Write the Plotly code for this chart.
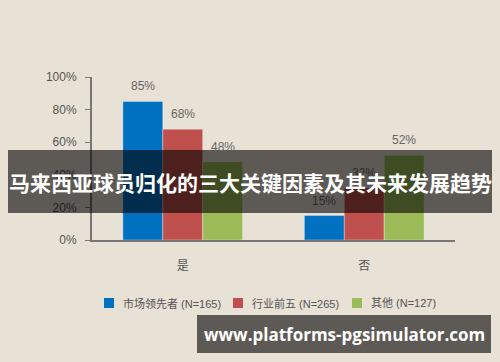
import plotly.graph_objects as go

categories = ["是", "否"]
series_names = ["市场领先者 (N=165)", "行业前五 (N=265)", "其他 (N=127)"]
series_values = [[85, 15], [68, 32], [48, 52]]
series_colors = ["#0070c0", "#c0504d", "#9bbb59"]
y_ticks = [0, 20, 40, 60, 80, 100]
y_tick_labels = ["0%", "20%", "40%", "60%", "80%", "100%"]
title_text = "马来西亚球员归化的三大关键因素及其未来发展趋势"
watermark = "www.platforms-pgsimulator.com"
legend_x_px = [109, 238, 357]  # legend square centres

BG = "#e8e1d5"
FONT = "Liberation Sans, Arial, Noto Sans CJK SC, sans-serif"
PL, PW, PB, PH = 92, 363, 240, 163  # plot area geometry in pixels
BAND_TOP, BAND_BOT = 150, 213

def px(x):
    return (x - PL) / PW

def py(y):
    return (PB - y) / PH

fig = go.Figure()
n = len(series_names)
bar_px = PW / len(categories) * 0.66 / n
for i, (name, vals, col) in enumerate(zip(series_names, series_values, series_colors)):
    fig.add_trace(go.Bar(
        x=categories, y=vals, name=name,
        marker=dict(color=col, line=dict(color="rgba(255,255,255,0.35)", width=1)),
        showlegend=False,
    ))
    for c, v in zip(categories, vals):
        label_y = PB - v / 100 * PH - 15
        under_band = BAND_TOP <= label_y <= BAND_BOT
        fig.add_annotation(x=c, y=v, xref="x", yref="y", text=f"{v}%",
                           showarrow=False, xshift=(i - (n - 1) / 2) * bar_px,
                           yshift=15, yanchor="middle",
                           font=dict(size=12, color="#2a2a2a" if under_band else "#666666",
                                     family=FONT))

fig.update_layout(
    width=500, height=362,
    paper_bgcolor=BG, plot_bgcolor=BG,
    margin=dict(l=92, r=45, t=77, b=122),
    barmode="group", bargap=0.34, bargroupgap=0,
    font=dict(family=FONT, color="#555555"),
    showlegend=False,
    xaxis=dict(showline=True, linecolor="#777777", linewidth=2, ticks="",
               showgrid=False, ticklabelstandoff=14,
               tickfont=dict(size=12, color="#555555", family="Noto Sans CJK SC")),
    yaxis=dict(range=[0, 100], tickvals=y_ticks, ticktext=y_tick_labels,
               showline=True, linecolor="#777777", linewidth=2, ticks="outside",
               ticklen=5, tickcolor="#777777", showgrid=False, zeroline=False,
               ticklabelstandoff=6,
               tickfont=dict(size=12, color="#555555")),
)

# legend drawn manually
for name, col, lx in zip(series_names, series_colors, legend_x_px):
    fig.add_shape(type="rect", xref="paper", yref="paper",
                  x0=px(lx - 5), x1=px(lx + 5), y0=py(308), y1=py(298),
                  fillcolor=col, line=dict(width=0))
    fig.add_annotation(text=name, xref="paper", yref="paper",
                       x=px(lx + 12), y=py(303), xanchor="left", yanchor="middle",
                       showarrow=False, font=dict(size=11, color="#555555", family=FONT))

# title band overlay
fig.add_shape(type="rect", xref="paper", yref="paper",
              x0=px(8), x1=px(492), y0=py(BAND_BOT), y1=py(BAND_TOP),
              fillcolor="rgba(0,0,0,0.6)", line=dict(width=0), layer="above")
fig.add_annotation(text=f"<b>{title_text}</b>", xref="paper", yref="paper",
                   x=px(250), y=py(182), xanchor="center", yanchor="middle",
                   showarrow=False,
                   font=dict(size=21, color="white", family="Noto Sans CJK SC"))

# watermark box
fig.add_shape(type="rect", xref="paper", yref="paper",
              x0=px(197), x1=px(491), y0=py(353), y1=py(315),
              fillcolor="rgba(0,0,0,0.6)", line=dict(width=0), layer="above")
fig.add_annotation(text=f"<b>{watermark}</b>", xref="paper", yref="paper",
                   x=px(344), y=py(334), xanchor="center", yanchor="middle",
                   showarrow=False,
                   font=dict(size=17, color="white", family="Open Sans"))

fig.write_html("out.html")
